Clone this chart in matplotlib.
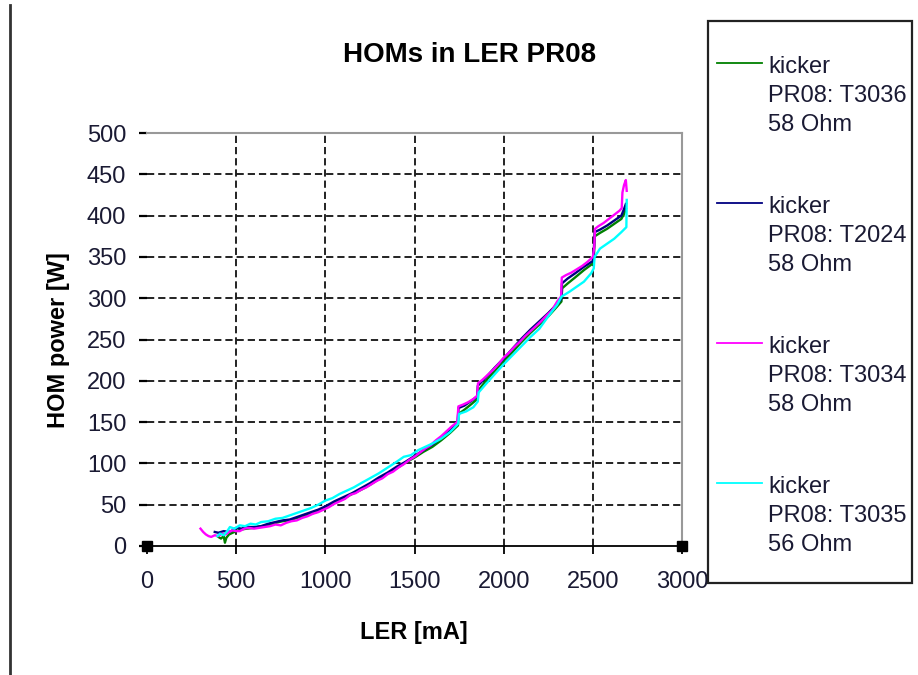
import matplotlib
matplotlib.use("Agg")
import matplotlib.pyplot as plt
from matplotlib.lines import Line2D
from matplotlib.patches import Rectangle

plt.rcParams['font.family'] = ['Liberation Sans', 'DejaVu Sans']

# LER current [mA] / HOM power [W]
t3036_x = [400, 415, 430, 437, 445, 460, 480, 500, 530, 560, 600, 640, 680, 720, 760, 800, 840, 880,
           920, 960, 1000, 1050, 1100, 1150, 1200, 1250, 1300, 1350, 1400, 1450, 1500, 1550, 1600,
           1650, 1700, 1744, 1748, 1780, 1820, 1852, 1857, 1900, 1950, 2000, 2050, 2100, 2150, 2200,
           2250, 2300, 2324, 2328, 2360, 2400, 2450, 2500, 2507, 2511, 2540, 2580, 2620, 2660, 2675, 2685]
t3036_y = [11, 9, 12, 4, 10, 14, 16, 18, 20, 21, 22, 24, 25, 28, 30, 31, 34, 36,
           39, 42, 46, 52, 57, 63, 68, 74, 81, 88, 94, 101, 107, 114, 120,
           128, 137, 146, 160, 165, 172, 178, 188, 200, 212, 224, 235, 247, 258, 268,
           278, 290, 296, 312, 318, 325, 334, 342, 355, 375, 379, 384, 390, 396, 402, 408]

t2024_x = [380, 400, 430, 460, 480, 500, 530, 560, 600, 640, 680, 720, 760, 800, 840, 880, 920, 960,
           1000, 1050, 1100, 1150, 1200, 1250, 1300, 1350, 1400, 1450, 1500, 1550, 1600, 1650, 1700,
           1742, 1747, 1780, 1820, 1851, 1855, 1900, 1950, 2000, 2050, 2100, 2150, 2200, 2250, 2300,
           2323, 2327, 2360, 2400, 2450, 2500, 2506, 2510, 2540, 2580, 2620, 2660, 2675, 2685]
t2024_y = [17, 16, 18, 17, 19, 22, 21, 23, 23, 24, 27, 29, 31, 32, 35, 38, 41, 44,
           48, 54, 59, 64, 70, 76, 83, 89, 96, 102, 109, 116, 123, 131, 140,
           151, 167, 170, 176, 181, 194, 204, 216, 227, 239, 251, 262, 272, 282, 293,
           299, 318, 324, 330, 338, 345, 360, 380, 383, 388, 394, 400, 408, 414]

t3034_x = [300, 315, 330, 345, 360, 380, 400, 420, 440, 460, 480, 500, 520, 545, 570, 600, 630, 660,
           690, 720, 750, 780, 810, 840, 870, 900, 930, 960, 990, 1020, 1050, 1080, 1110, 1140, 1170,
           1200, 1230, 1260, 1290, 1320, 1350, 1380, 1410, 1440, 1470, 1500, 1530, 1560, 1590, 1620,
           1650, 1680, 1710, 1740, 1746, 1770, 1800, 1830, 1852, 1856, 1880, 1910, 1940, 1970, 2000,
           2030, 2060, 2090, 2120, 2150, 2180, 2210, 2240, 2270, 2300, 2322, 2326, 2350, 2380, 2410,
           2440, 2470, 2500, 2508, 2512, 2530, 2560, 2590, 2620, 2650, 2662, 2666, 2675, 2685, 2690]
t3034_y = [21, 17, 14, 12, 11, 13, 12, 15, 14, 17, 19, 18, 18, 21, 22, 21, 22, 23,
           24, 26, 25, 28, 30, 31, 34, 36, 39, 41, 44, 47, 51, 54, 57, 62, 64,
           68, 71, 75, 79, 82, 87, 90, 95, 99, 104, 108, 113, 118, 122, 128,
           133, 139, 145, 150, 169, 171, 174, 178, 182, 197, 201, 207, 213, 220, 228,
           234, 241, 247, 254, 260, 266, 272, 279, 285, 296, 302, 325, 328, 331, 335,
           339, 344, 350, 362, 384, 387, 391, 396, 401, 406, 409, 428, 437, 443, 430]

t3035_x = [395, 410, 430, 450, 465, 490, 520, 550, 580, 610, 640, 680, 720, 760, 800, 840, 880, 920,
           960, 1000, 1040, 1080, 1120, 1160, 1200, 1250, 1300, 1350, 1400, 1440, 1480, 1520, 1560,
           1600, 1650, 1700, 1745, 1750, 1790, 1830, 1855, 1860, 1900, 1950, 2000, 2050, 2100, 2150,
           2200, 2250, 2300, 2325, 2370, 2410, 2450, 2490, 2505, 2510, 2540, 2580, 2620, 2660, 2688, 2690]
t3035_y = [12, 15, 13, 18, 23, 21, 25, 24, 27, 26, 29, 30, 33, 34, 37, 40, 43, 46,
           50, 55, 58, 63, 67, 71, 76, 82, 88, 95, 102, 108, 110, 116, 120,
           124, 130, 138, 148, 160, 163, 168, 175, 186, 196, 208, 220, 231, 242, 253,
           263, 278, 292, 302, 308, 314, 320, 330, 336, 350, 360, 366, 372, 380, 386, 419]

labels = ["kicker\nPR08: T3036\n58 Ohm", "kicker\nPR08: T2024\n58 Ohm",
          "kicker\nPR08: T3034\n58 Ohm", "kicker\nPR08: T3035\n56 Ohm"]
colors = ['#008000', '#000080', '#ff00ff', '#00ffff']
series = [(t3036_x, t3036_y), (t2024_x, t2024_y), (t3034_x, t3034_y), (t3035_x, t3035_y)]

x_ticks = [0, 500, 1000, 1500, 2000, 2500, 3000]
y_ticks = [0, 50, 100, 150, 200, 250, 300, 350, 400, 450, 500]

W, H = 918, 675
fig = plt.figure(figsize=(W / 100, H / 100), dpi=100)
ax = fig.add_axes([147 / W, 1 - 546 / H, (682 - 147) / W, (546 - 133) / H])

# dashed grid, inner lines only
for xv in x_ticks[1:-1]:
    ax.axvline(xv, color='#111111', lw=1.3, ls=(0, (4, 2.2)), zorder=1)
for yv in y_ticks[1:-1]:
    ax.axhline(yv, color='#111111', lw=1.3, ls=(0, (4, 2.2)), zorder=1)

lines = []
for (xs, ys), c in zip(series, colors):
    ln, = ax.plot(xs, ys, color=c, lw=1.7, zorder=3)
    lines.append(ln)

# end markers on the zero line
ax.plot([0, 3000], [0, 0], 's', color='black', ms=7, clip_on=False, zorder=5)

ax.set_xlim(0, 3000)
ax.set_ylim(0, 500)
ax.set_xticks(x_ticks)
ax.set_yticks(y_ticks)
ax.spines['left'].set_visible(False)
ax.spines['bottom'].set_color('black')
ax.spines['bottom'].set_linewidth(1.3)
for s in ['top', 'right']:
    ax.spines[s].set_color('#999999')
    ax.spines[s].set_linewidth(1.5)
ax.tick_params(axis='x', direction='out', length=6, width=1.3, pad=12, labelsize=17)
ax.tick_params(axis='y', direction='out', length=6, width=1.6, pad=9, labelsize=17)
ax.tick_params(axis='both', colors='black', labelcolor='#1a1a33')

fig.text(470 / W, 1 - 55 / H, "HOMs in LER PR08", ha='center', va='center',
         fontsize=20, fontweight='bold')
fig.text(414 / W, 1 - 632 / H, "LER [mA]", ha='center', va='center',
         fontsize=17, fontweight='bold')
fig.text(58 / W, 1 - 340 / H, "HOM power [W]", ha='center', va='center',
         rotation=90, fontsize=17, fontweight='bold')

# outer frame line on the left
fig.add_artist(Line2D([10 / W, 10 / W], [0, 1 - 5 / H], color='#333333', lw=2))

# legend box drawn by hand
fig.add_artist(Rectangle((708 / W, 1 - 583 / H), (912 - 708) / W, (583 - 21) / H,
                         transform=fig.transFigure, fill=False, edgecolor='#222222', lw=1.6))
for i, (ln, lab) in enumerate(zip(lines, labels)):
    yl = 63 + 140 * i
    fig.add_artist(Line2D([717 / W, 762 / W], [1 - yl / H, 1 - yl / H],
                          color=ln.get_color(), lw=1.3))
    for j, part in enumerate(lab.split("\n")):
        fig.text(768 / W, 1 - (yl + 10 + 29 * j) / H, part, ha='left', va='baseline',
                 fontsize=17, color='#1a1a33')

fig.savefig("out.png", dpi=100)
